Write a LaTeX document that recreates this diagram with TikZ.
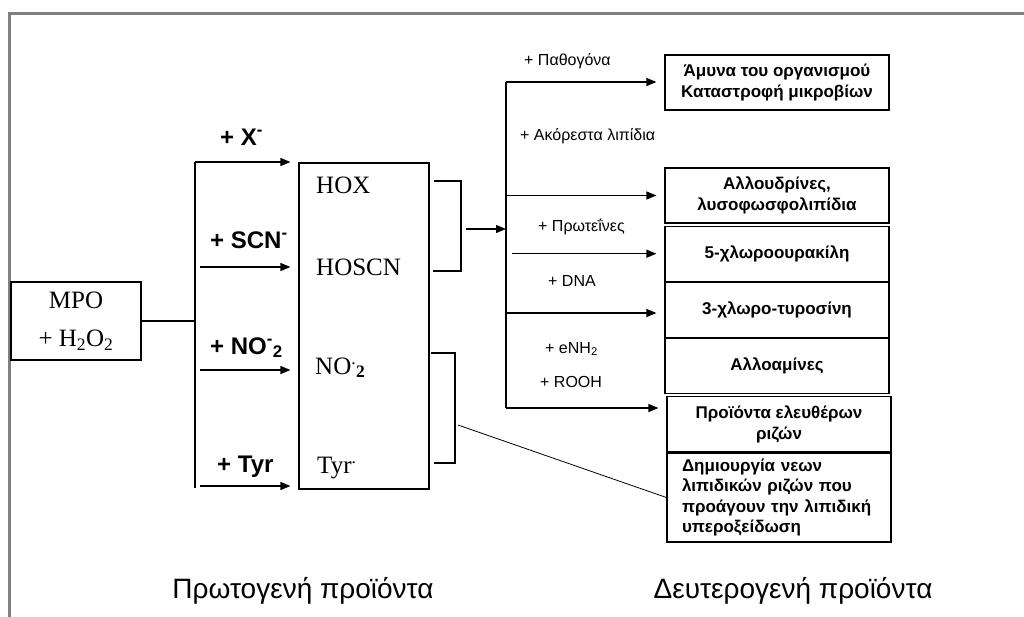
\documentclass[tikz,border=0pt]{standalone}
\usepackage{fontspec}
\setmainfont{Liberation Serif}
\setsansfont{Liberation Sans}
\usetikzlibrary{arrows.meta,positioning}
\tikzset{
  ln/.style={line width=1.2pt},
  prodbox/.style={rectangle, draw, ln, minimum width=224pt, minimum height=55pt, align=center, inner sep=2pt, font=\fontsize{17}{20.5}\selectfont\sffamily\bfseries},
  reagent/.style={anchor=base west, inner sep=0pt, font=\fontsize{24}{26}\selectfont\sffamily\bfseries},
  agent/.style={anchor=base west, inner sep=0pt, font=\fontsize{16}{18}\selectfont\sffamily},
  species/.style={anchor=base west, inner sep=0pt, font=\fontsize{25}{28}\selectfont},
  caption/.style={anchor=base, inner sep=0pt, font=\fontsize{28}{30}\selectfont\sffamily},
  arr/.style={-{Triangle[length=10pt,width=8pt]}, ln, shorten >=8pt}
}

\begin{document}
\begin{tikzpicture}[x=1pt, y=-1pt]
\useasboundingbox (0,0) rectangle (1024,616);
\draw[gray, line width=3pt] (9,630) |- (1040,13);

% enzyme and primary products
\node[draw, ln, minimum width=130pt, minimum height=78pt, align=center, font=\fontsize{25}{38}\selectfont] (mpo) at (76,321) {MPO\\+ H\textsubscript{2}O\textsubscript{2}};
\node[draw, ln, minimum width=130pt, minimum height=326pt] (prim) at (364,326) {};
\node[species] (hox) at (316,193) {HOX};
\node[species] (hoscn) at (316,275) {HOSCN};
\node[species] (no2) at (315,374) {NO\textsuperscript{.}\textsubscript{\textbf{2}}};
\node[species] (tyr) at (317,473) {Tyr\textsuperscript{.}};

\node[reagent] (rx) at (220,145) {+ X\textsuperscript{-}};
\node[reagent] (rscn) at (210,248) {+ SCN\textsuperscript{-}};
\node[reagent] (rno) at (210,354) {+ NO\textsuperscript{-}\textsubscript{2}};
\node[reagent] (rtyr) at (217,472) {+ Tyr};

\coordinate (ltop) at (195,162);
\coordinate (lbot) at (195,488);
\coordinate (ascn) at (200,267);
\coordinate (ano) at (200,370);
\coordinate (atyr) at (200,486);
\draw[ln] (mpo.east) -- (mpo.east -| ltop);
\draw[ln] (ltop) -- (lbot);
\draw[arr] (ltop) -- (ltop -| prim.west);
\draw[arr] (ascn) -- (ascn -| prim.west);
\draw[arr] (ano) -- (ano -| prim.west);
\draw[arr] (atyr) -- (atyr -| prim.west);

% brackets
\coordinate (brmid) at (466,229);
\draw[ln] (434,181) -| (461,271) -- (433,271);
\draw[ln] (431,353) -| (455,463) -- (434,463);

% secondary products
\node[prodbox] (defence) at (777,82.5) {Άμυνα του οργανισμού\\Καταστροφή μικροβίων};
\node[prodbox] (allodr) at (777,195.5) {Αλλουδρίνες,\\λυσοφωσφολιπίδια};
\node[prodbox, below=2pt of allodr] (chlura) {5-χλωροουρακίλη};
\node[prodbox, below=0pt of chlura] (chltyr) {3-χλωρο-τυροσίνη};
\node[prodbox, below=0pt of chltyr] (alloam) {Αλλοαμίνες};
\node[prodbox, below=2pt of alloam, xshift=2pt] (radic) {Προϊόντα ελευθέρων\\ριζών};
\node[prodbox, below=0pt of radic, minimum height=89pt, text width=194pt, align=left] (lipid) {Δημιουργία νεων\\λιπιδικών ριζών που\\προάγουν την λιπιδική\\υπεροξείδωση};

\node[agent] (apath) at (524,65) {+ Παθογόνα};
\node[agent] (alip) at (520,140) {+ Ακόρεστα λιπίδια};
\node[agent] (aprot) at (538,231) {+ Πρωτεΐνες};
\node[agent] (adna) at (548,286) {+ DNA};
\node[agent] (anh) at (545,353) {+ eNH\textsubscript{2}};
\node[agent] (arooh) at (540,387) {+ ROOH};

\coordinate (rtop) at (506,82);
\coordinate (rbot) at (506,408);
\coordinate (rdna) at (506,313);
\draw[ln] (rtop) -- (rbot);
\draw[arr, shorten >=0pt] (brmid) -- (brmid -| rtop);
\draw[arr] (rtop) -- (rtop -| defence.west);
\draw[arr] (rtop |- allodr.west) -- (allodr.west);
\draw[arr] ([xshift=6pt]rtop |- chlura.west) -- (chlura.west);
\draw[arr] (rdna) -- (rdna -| chltyr.west);
\draw[arr] (rbot) -- (rbot -| radic.west);
\draw[line width=0.8pt] (458,425) -- (lipid.west);

\node[caption] (cprim) at (303,598) {Πρωτογενή προϊόντα};
\node[caption] (csec) at (793,598) {Δευτερογενή προϊόντα};
\end{tikzpicture}
\end{document}
